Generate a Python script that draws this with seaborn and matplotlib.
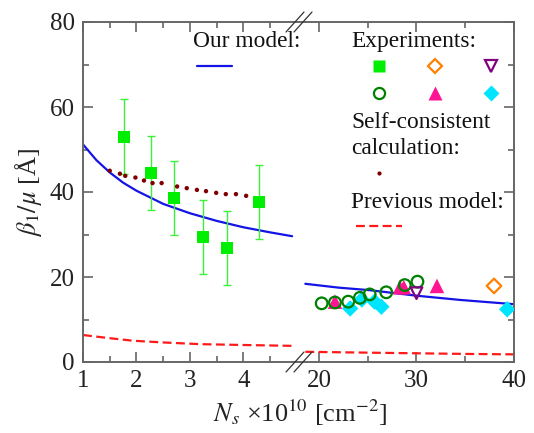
import matplotlib
matplotlib.use("Agg")
import matplotlib.pyplot as plt
from matplotlib.lines import Line2D
import seaborn as sns

# ---- data ----
# left part of the broken axis (Ns from 1 to ~5)
exp_sq_x = [1.77, 2.27, 2.70, 3.25, 3.69, 4.29]
exp_sq_y = [53.0, 44.5, 38.7, 29.4, 26.9, 37.6]
exp_sq_err = [8.8, 8.7, 8.7, 8.7, 8.7, 8.7]

selfc_x = [1.50, 1.69, 1.79, 1.98, 2.14, 2.30, 2.47, 2.76, 2.94, 3.13, 3.30, 3.49, 3.67, 3.86, 4.05]
selfc_y = [45.0, 44.3, 43.8, 43.4, 42.7, 42.1, 42.1, 41.3, 40.9, 40.5, 40.2, 39.8, 39.5, 39.5, 39.1]

model_lx = [1.0, 1.25, 1.5, 1.75, 2.0, 2.5, 3.0, 3.5, 4.0, 4.5, 4.91]
model_ly = [51.2, 47.5, 44.6, 42.2, 40.3, 37.2, 35.0, 33.2, 31.7, 30.5, 29.6]
prev_lx = [1.0, 1.5, 1.94, 2.5, 3.19, 4.0, 4.91]
prev_ly = [6.35, 5.6, 5.0, 4.6, 4.2, 4.0, 3.8]

# right part (Ns from ~18 to 40)
model_rx = [18.6, 22.0, 25.2, 30.0, 34.5, 40.0]
model_ry = [18.4, 17.5, 16.9, 15.6, 14.6, 13.6]
prev_rx = [18.6, 25.0, 30.0, 35.0, 40.0]
prev_ry = [2.4, 2.2, 2.05, 1.9, 1.8]

circ_x = [20.28, 21.64, 23.0, 24.2, 25.2, 26.9, 28.8, 30.1]
circ_y = [13.8, 14.0, 14.2, 15.1, 15.9, 16.4, 18.1, 18.9]
tri_x = [21.64, 28.3, 28.7, 32.1]
tri_y = [14.2, 17.6, 17.6, 17.9]
cyan_x = [23.2, 24.4, 25.7, 26.4, 39.3]
cyan_y = [12.6, 14.7, 14.2, 13.0, 12.4]
purp_x = [30.0]
purp_y = [16.2]
orng_x = [37.95]
orng_y = [17.9]

left_ticks = [1, 2, 3, 4]
left_minor = [1.5, 2.5, 3.5, 4.5]
right_ticks = [20, 30, 40]
right_minor = [25, 35]
y_ticks = [0, 20, 40, 60, 80]
y_minor = [10, 30, 50, 70]

sns.set_style("ticks")
plt.rcParams['font.family'] = ['Liberation Serif', 'DejaVu Serif']
plt.rcParams['mathtext.fontset'] = 'stix'

W, H = 534, 433
fig = plt.figure(figsize=(W / 100, H / 100), dpi=100)


def fx(px):
    return px / W


def fy(py):
    return 1 - py / H


ax1 = fig.add_axes([fx(83), fy(362), fx(298) - fx(83), fy(22) - fy(362)])
ax2 = fig.add_axes([fx(298), fy(362), fx(514) - fx(298), fy(22) - fy(362)])

blue = '#1414e6'
red = '#ff1a1a'

# left panel
sns.lineplot(x=model_lx, y=model_ly, ax=ax1, color=blue, lw=1.6)
sns.lineplot(x=prev_lx, y=prev_ly, ax=ax1, color=red, lw=1.6, linestyle=(0, (4, 2)))
ax1.errorbar(exp_sq_x, exp_sq_y, yerr=exp_sq_err, fmt='none', ecolor='#3cf03c',
             elinewidth=1.0, capsize=3, capthick=1.0)
sns.scatterplot(x=exp_sq_x, y=exp_sq_y, ax=ax1, marker='s', color='#00ee00', s=75,
                edgecolor='none', zorder=3)
sns.scatterplot(x=selfc_x, y=selfc_y, ax=ax1, color='#800000', s=10, edgecolor='none', zorder=3)

# right panel
sns.lineplot(x=model_rx, y=model_ry, ax=ax2, color=blue, lw=1.6)
sns.lineplot(x=prev_rx, y=prev_ry, ax=ax2, color=red, lw=1.6, linestyle=(0, (4, 2)))
sns.scatterplot(x=tri_x, y=tri_y, ax=ax2, marker='^', color='#ff1493', s=110, edgecolor='none', zorder=3)
sns.scatterplot(x=cyan_x, y=cyan_y, ax=ax2, marker='D', color='#00e5ff', s=70, edgecolor='none', zorder=3)
sns.scatterplot(x=circ_x, y=circ_y, ax=ax2, marker='o', s=70, facecolor='none',
                edgecolor='#008000', linewidth=1.6, zorder=4)
sns.scatterplot(x=purp_x, y=purp_y, ax=ax2, marker='v', s=70, facecolor='none',
                edgecolor='#800080', linewidth=1.6, zorder=4)
sns.scatterplot(x=orng_x, y=orng_y, ax=ax2, marker='D', s=55, facecolor='none',
                edgecolor='#ff8000', linewidth=1.6, zorder=4)

spine_c = '#666666'
for ax in (ax1, ax2):
    ax.set_ylim(0, 80)
    ax.set_yticks(y_ticks)
    ax.set_yticks(y_minor, minor=True)
    for s in ax.spines.values():
        s.set_color(spine_c)
        s.set_linewidth(1.4)
    ax.tick_params(which='both', direction='in', color=spine_c, width=1.2,
                   labelsize=18, labelcolor='#222222', pad=6)
    ax.tick_params(which='major', length=7)
    ax.tick_params(which='minor', length=4.5)

ax1.set_xlim(1, 5.02)
ax1.set_xticks(left_ticks)
ax1.set_xticks(left_minor, minor=True)
ax1.spines['right'].set_visible(False)
ax1.tick_params(which='both', top=True, bottom=True, left=True, right=False)

ax2.set_xlim(17.85, 40)
ax2.set_xticks(right_ticks)
ax2.set_xticks(right_minor, minor=True)
ax2.spines['left'].set_visible(False)
ax2.tick_params(which='both', top=True, bottom=True, left=False, right=True,
                labelleft=False, labelright=False)

ax1.set_ylabel(r'$\beta_1/\mu$ [Å]', fontsize=19, labelpad=4)
fig.text(fx(300), fy(422), r'$N_s$ ×10$^{10}$ [cm$^{-2}$]', fontsize=19,
         ha='center', va='baseline', color='#222222')

# break marks
for y0 in (22, 362):
    for dx in (0, 8):
        fig.add_artist(Line2D([fx(286 + dx), fx(304 + dx)], [fy(y0 + 10), fy(y0 - 10)],
                              color='#333333', lw=0.9))

# hand-made legend
tsz = 16.8
tc = '#111111'
fig.text(fx(193), fy(47), 'Our model:', fontsize=tsz, color=tc, va='baseline')
fig.add_artist(Line2D([fx(197), fx(232)], [fy(66), fy(66)], color=blue, lw=1.6))
fig.text(fx(351), fy(47), 'Experiments:', fontsize=tsz, color=tc, va='baseline')
fig.add_artist(Line2D([fx(379)], [fy(66)], marker='s', ms=8, color='#00ee00', mec='none'))
fig.add_artist(Line2D([fx(435)], [fy(66)], marker='D', ms=7, mfc='none', mec='#ff8000', mew=1.6))
fig.add_artist(Line2D([fx(491)], [fy(66)], marker='v', ms=8, mfc='none', mec='#800080', mew=1.6))
fig.add_artist(Line2D([fx(379)], [fy(93)], marker='o', ms=8, mfc='none', mec='#008000', mew=1.6))
fig.add_artist(Line2D([fx(435)], [fy(93)], marker='^', ms=10, color='#ff1493', mec='none'))
fig.add_artist(Line2D([fx(491)], [fy(93)], marker='D', ms=8, color='#00e5ff', mec='none'))
fig.text(fx(351), fy(128), 'Self-consistent', fontsize=tsz, color=tc, va='baseline')
fig.text(fx(351), fy(154), 'calculation:', fontsize=tsz, color=tc, va='baseline')
fig.add_artist(Line2D([fx(379)], [fy(173)], marker='o', ms=3, color='#800000', mec='none'))
fig.text(fx(351), fy(208), 'Previous model:', fontsize=tsz, color=tc, va='baseline')
fig.add_artist(Line2D([fx(356), fx(402)], [fy(226), fy(226)], color=red, lw=1.6,
                      linestyle=(0, (4, 2))))

fig.savefig('out.png', dpi=100)
